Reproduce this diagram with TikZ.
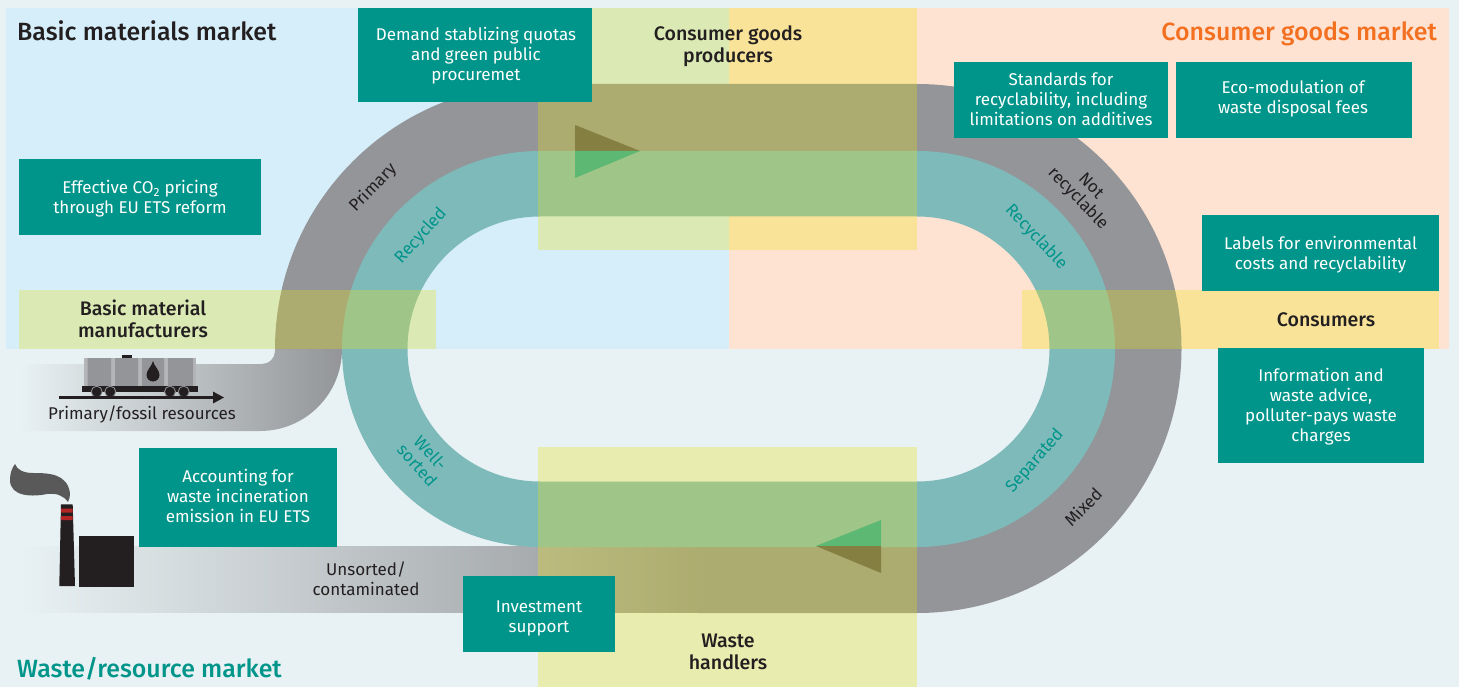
\documentclass[tikz,border=0pt]{standalone}
\usepackage{fontspec}
\setmainfont{Fira Sans}
\newfontfamily\firamed{Fira Sans Medium}
\definecolor{bgwaste}{HTML}{E8F1F3}
\definecolor{bgblue}{HTML}{D5EEFA}
\definecolor{bgpeach}{HTML}{FEE3D3}
\definecolor{ringgray}{HTML}{939598}
\definecolor{ringteal}{HTML}{7FBABB}
\definecolor{boxteal}{HTML}{00958A}
\definecolor{inkdark}{HTML}{231F20}
\definecolor{actoryellow}{RGB}{236,227,20}
\definecolor{orangehead}{HTML}{F37021}
\definecolor{trigreen}{HTML}{5CB872}
\definecolor{triolive}{HTML}{857F42}
\tikzset{
  policybox/.style={fill=boxteal,inner sep=0pt},
  policy/.style={text=white,align=center,font=\fontsize{17}{20}\selectfont,inner sep=0pt},
  actor/.style={fill=actoryellow,fill opacity=.3},
  actorlabel/.style={text=inkdark,align=center,font=\firamed\fontsize{19.6}{22}\selectfont,inner sep=0pt},
  market/.style={font=\firamed\fontsize{24.9}{28}\selectfont,inner sep=0pt,anchor=base west},
  grayflow/.style={text=inkdark,align=center,font=\fontsize{17}{20}\selectfont,inner sep=0pt},
  tealflow/.style={text=boxteal,align=center,font=\fontsize{17}{18}\selectfont,inner sep=0pt}
}
\begin{document}
\begin{tikzpicture}[x=1pt,y=1pt,yscale=-1]
\useasboundingbox (0,0) rectangle (1459,687);
% backgrounds
\fill[bgwaste] (0,0) rectangle (1459,687);
\fill[bgblue] (6,8) rectangle (729,349);
\fill[bgpeach] (729,8) rectangle (1449,349);
% incoming bands
\shade[left color=bgwaste,right color=ringgray] (20,364) -- (262,364) arc(90:0:13) -- (275,349) -- (342,349) arc(0:90:82) -- (20,431) -- cycle;
\shade[left color=bgwaste,right color=ringgray] (20,546) rectangle (700,612.7);
% gray ring
\fill[ringgray] (275,349) arc(180:270:265) -- (917,84) arc(270:450:264.5) -- (699,613) -- (699,546) -- (917,546) arc(90:-90:197) -- (917,152) -- (540,152) arc(270:180:197) -- cycle;
% teal ring
\fill[ringteal,even odd rule] (342,349) arc(180:270:198) -- (917,151) arc(270:450:198) -- (540,547) arc(90:180:198) -- cycle
  (407.5,349) arc(180:270:132.5) -- (917,216.5) arc(270:450:132.5) -- (540,481.5) arc(90:180:132.5) -- cycle;
% actor bands
\path[actor] (538,8) rectangle (917,250);
\path[actor] (19,290) rectangle (436,349);
\path[actor] (1022,290) rectangle (1439,349);
\path[actor] (538,447) rectangle (917,687);
% direction triangles
\fill[triolive] (575,125) -- (640,151) -- (575,151) -- cycle;
\fill[trigreen] (575,178) -- (640,151) -- (575,151) -- cycle;
\fill[trigreen] (881,520) -- (816,546) -- (881,546) -- cycle;
\fill[triolive] (881,573) -- (816,546) -- (881,546) -- cycle;
% train
\fill[ringgray!70!white] (84,358) rectangle (196,386);
\fill[ringgray] (87.5,358) rectangle (111,386) (115,358) rectangle (138,386) (142,358) rectangle (164,386) (168,358) rectangle (193,386);
\fill[inkdark] (122,355) rectangle (132,358);
\fill[inkdark] (82,386) rectangle (198,392);
\fill[inkdark] (153,361) .. controls (154,366) and (159.5,370) .. (159.5,375) arc(0:180:6.5 and 6.5) .. controls (146.5,370) and (152,366) .. (153,361) -- cycle;
\foreach \wx in {96.7,110.3,170,183.7}
  \filldraw[fill=inkdark,draw=ringgray,line width=.8pt] (\wx,391.7) circle (5.5);
\fill[inkdark] (58.7,396.3) rectangle (214,398.7);
\fill[inkdark] (213,391.5) -- (224,397.5) -- (213,403.5) -- cycle;
% incinerator
\fill[inkdark] (59.3,586) -- (61,504.3) -- (72.7,504.3) -- (75,586) -- cycle;
\fill[red!65!black!85!white] (61,508.7) rectangle (72.7,512.7) (61,516) rectangle (72.7,520);
\fill[black!65!white] (15,464) .. controls (17,470) and (24,473) .. (33,473) .. controls (50,473) and (67,474) .. (70,493) .. controls (70,497) and (69,500) .. (68,502) .. controls (63,495) and (56,493) .. (47,494) .. controls (33,497) and (10,497) .. (10,480) .. controls (10,473) and (12,468) .. (15,464) -- cycle;
\fill[inkdark] (79,536) rectangle (134,587);
% policy boxes
\node[policybox,minimum width=234pt,minimum height=94pt] (demandbox) at (475,55) {};
\node[policy] (demand) at (476,56) {Demand stablizing quotas\\and green public\\procuremet};
\node[policybox,minimum width=214pt,minimum height=76pt] (standardsbox) at (1061,100) {};
\node[policy] (standards) at (1061,99) {Standards for\\recyclability, including\\limitations on additives};
\node[policybox,minimum width=236pt,minimum height=76pt] (ecobox) at (1294,100) {};
\node[policy] (eco) at (1293,99) {Eco-modulation of\\waste disposal fees};
\node[policybox,minimum width=242pt,minimum height=76pt] (co2box) at (140,197) {};
\node[policy] (co2) at (140,199) {Effective CO\textsubscript{2} pricing\\through EU ETS reform};
\node[policybox,minimum width=237pt,minimum height=76pt] (labelsbox) at (1320.5,253) {};
\node[policy] (labels) at (1320.5,255) {Labels for environmental\\costs and recyclability};
\node[policybox,minimum width=206pt,minimum height=115pt] (infobox) at (1321,405.5) {};
\node[policy] (info) at (1321,406.5) {Information and\\waste advice,\\polluter-pays waste\\charges};
\node[policybox,minimum width=198pt,minimum height=99pt] (accountbox) at (238,497.5) {};
\node[policy] (account) at (238,496) {Accounting for\\waste incineration\\emission in EU ETS};
\node[policybox,minimum width=152pt,minimum height=76pt] (investbox) at (539,614) {};
\node[policy] (invest) at (539,618) {Investment\\support};
% market heads
\node[market,text=inkdark] (mbasic) at (17,40.5) {Basic materials market};
\node[market,text=orangehead,anchor=base east] (mconsumer) at (1437,40.5) {Consumer goods market};
\node[market,text=boxteal] (mwaste) at (17,677.5) {Waste/resource market};
% actors
\node[actorlabel] (producers) at (728,46) {Consumer goods\\producers};
\node[actorlabel] (manuf) at (143,319) {Basic material\\manufacturers};
\node[actorlabel] (consumers) at (1326,320) {Consumers};
\node[actorlabel] (handlers) at (728,652) {Waste\\handlers};
% flows
\node[grayflow] (fossil) at (142,414) {Primary/fossil resources};
\node[grayflow] (unsorted) at (366,578.5) {Unsorted/\\contaminated};
\node[grayflow,rotate=46] (primary) at (373,188) {Primary};
\node[grayflow,rotate=-46,font=\fontsize{17}{18}\selectfont] (notrec) at (1084,193) {Not\\recyclable};
\node[grayflow,rotate=46] (mixed) at (1083,507) {Mixed};
\node[tealflow,rotate=48] (recycled) at (421,236) {Recycled};
\node[tealflow,rotate=-47] (recyclable) at (1036,237) {Recyclable};
\node[tealflow,rotate=-48] (well) at (424,459) {Well-\\sorted};
\node[tealflow,rotate=49] (separated) at (1035,461) {Separated};
\end{tikzpicture}
\end{document}
